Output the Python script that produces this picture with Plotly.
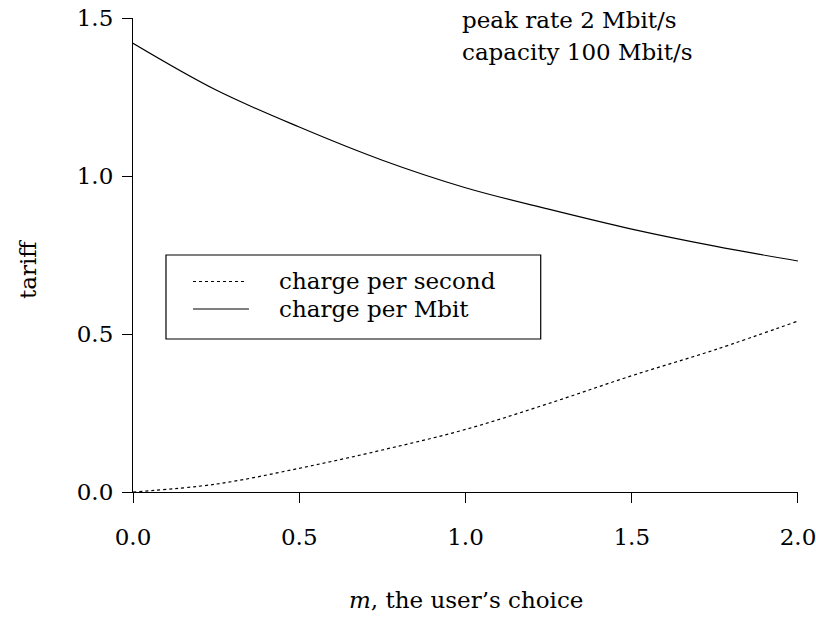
import plotly.graph_objects as go

# data
m_values = [0.0, 0.25, 0.5, 0.75, 1.0, 1.25, 1.5, 1.75, 2.0]
charge_per_second = [0.0, 0.025, 0.075, 0.133, 0.198, 0.28, 0.368, 0.45, 0.541]
charge_per_mbit = [1.42, 1.272, 1.155, 1.05, 0.963, 0.895, 0.832, 0.778, 0.731]
x_ticks = [0.0, 0.5, 1.0, 1.5, 2.0]
y_ticks = [0.0, 0.5, 1.0, 1.5]
x_tick_labels = ["0.0", "0.5", "1.0", "1.5", "2.0"]
y_tick_labels = ["0.0", "0.5", "1.0", "1.5"]
series_names = ["charge per second", "charge per Mbit"]

FONT = "DejaVu Serif"
FS = 23

fig = go.Figure()
fig.add_trace(go.Scatter(x=m_values, y=charge_per_second, mode="lines",
                         line=dict(color="black", width=1.2, dash="dot", shape="spline"),
                         name=series_names[0], showlegend=False))
fig.add_trace(go.Scatter(x=m_values, y=charge_per_mbit, mode="lines",
                         line=dict(color="black", width=1.2, shape="spline"),
                         name=series_names[1], showlegend=False))

axis_common = dict(showline=True, linecolor="black", linewidth=1.2, ticks="outside",
                   ticklen=10, tickcolor="black", tickwidth=1.2, showgrid=False,
                   zeroline=False, ticklabeloverflow="allow", automargin=False,
                   tickfont=dict(family=FONT, size=FS, color="black"))

fig.update_xaxes(range=[0, 2.0001], tickvals=x_ticks, ticktext=x_tick_labels,
                 ticklabelstandoff=14, **axis_common)
fig.update_yaxes(range=[0, 1.5001], tickvals=y_ticks, ticktext=y_tick_labels,
                 ticklabelstandoff=4, **axis_common)

# legend box drawn as shapes
fig.add_shape(type="rect", xref="paper", yref="paper", x0=0.0496, x1=0.6131,
              y0=0.3228, y1=0.5, line=dict(color="black", width=1.2))
fig.add_shape(type="line", xref="paper", yref="paper", x0=0.0902, x1=0.1684,
              y0=0.4441, y1=0.4441, line=dict(color="black", width=1.2, dash="dot"))
fig.add_shape(type="line", xref="paper", yref="paper", x0=0.0902, x1=0.1744,
              y0=0.3861, y1=0.3861, line=dict(color="black", width=1.2))
for name, yy in zip(series_names, [0.4441, 0.3861]):
    fig.add_annotation(text=name, xref="paper", yref="paper", x=0.2165, y=yy,
                       xanchor="left", yanchor="middle", showarrow=False,
                       font=dict(family=FONT, size=FS, color="black"))

# top-right note
fig.add_annotation(text="peak rate 2 Mbit/s", xref="paper", yref="paper",
                   x=0.4917, y=(492 - 20) / 474, xanchor="left", yanchor="middle",
                   showarrow=False, font=dict(family=FONT, size=FS, color="black"))
fig.add_annotation(text="capacity 100 Mbit/s", xref="paper", yref="paper",
                   x=0.4917, y=(492 - 52) / 474, xanchor="left", yanchor="middle",
                   showarrow=False, font=dict(family=FONT, size=FS, color="black"))

# axis titles
fig.add_annotation(text="<i>m</i>, the user’s choice", xref="paper", yref="paper",
                   x=0.5, y=(492 - 600) / 474, xanchor="center", yanchor="middle",
                   showarrow=False, font=dict(family=FONT, size=FS, color="black"))
fig.add_annotation(text="tariff", xref="paper", yref="paper",
                   x=(28 - 133) / 665, y=(492 - 270) / 474, xanchor="center",
                   yanchor="middle", textangle=-90, showarrow=False,
                   font=dict(family=FONT, size=FS, color="black"))

fig.update_layout(width=816, height=619, margin=dict(l=133, r=18, t=18, b=127),
                  plot_bgcolor="white", paper_bgcolor="white",
                  font=dict(family=FONT, size=FS, color="black"))

fig.write_html("out.html", config={"displayModeBar": False},
               post_script="document.body.style.margin='0';")
